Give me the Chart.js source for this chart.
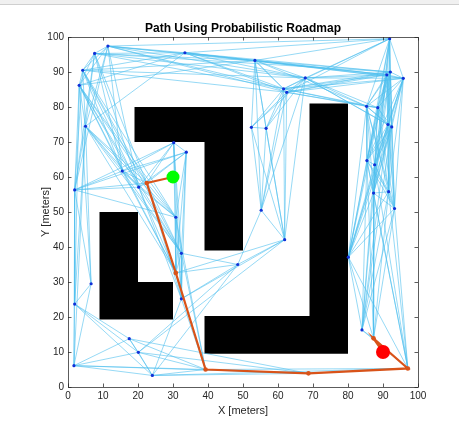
<!DOCTYPE html>
<html>
<head>
<meta charset="utf-8">
<script src="https://cdn.jsdelivr.net/npm/chart.js@4.4.1/dist/chart.umd.min.js"></script>
<style>
html,body{margin:0;padding:0;background:#fff;}
#wrap{width:459px;height:421px;position:relative;}
</style>
</head>
<body>
<div id="wrap"><canvas id="c" width="459" height="421"></canvas></div>
<script>
// ---- data ----
const nodeX = [11.4,7.6,4.2,3.2,5.0,33.4,30.2,33.8,53.4,61.6,62.5,67.8,52.4,56.6,91.9,92.1,91.1,95.8,85.3,88.5,
               91.4,92.5,85.4,87.6,87.3,91.6,93.3,15.5,20.2,1.9,30.8,32.4,55.2,61.9,48.5,80.1,6.6,1.9,17.5,20.1,
               1.7,24.1,32.4,84.0,22.5,30.8,39.3,68.7,97.1,87.3];
const nodeY = [97.4,95.3,90.5,86.2,74.5,95.5,69.8,67.1,93.3,85.2,84.2,88.3,74.2,73.9,99.5,90.0,89.2,88.2,80.2,79.8,
               75.0,74.3,64.7,63.5,55.4,55.8,51.0,61.7,57.1,56.3,48.5,38.2,50.5,42.1,35.0,37.1,29.5,23.7,13.8,9.9,
               6.1,3.3,25.2,16.3,58.3,32.6,5.0,3.9,5.3,13.9];

const edges = [
 [0,1],[0,2],[0,3],[0,4],[1,2],[1,3],[1,4],[2,3],[2,4],[3,4],
 [0,29],[1,29],[2,29],[3,29],[4,29],
 [0,27],[1,27],[2,27],[3,27],[4,27],[0,28],[1,28],[2,28],[3,28],[4,28],[1,44],[2,44],[3,44],[4,44],
 [2,30],[3,30],[4,30],[2,31],[3,31],[4,31],[3,45],[4,45],
 [4,36],[4,37],[3,36],[3,37],[4,40],
 [0,5],[1,5],[2,5],[3,5],[4,5],[0,8],[1,8],[2,8],[3,8],[0,9],[1,9],[0,10],[2,10],[0,11],[1,11],[2,11],[0,14],[0,16],[1,15],
 [29,27],[29,28],[29,44],[29,6],[29,7],[29,30],[29,36],[29,37],[29,40],
 [27,28],[27,44],[27,6],[27,7],[27,30],[27,31],[27,45],
 [28,44],[28,6],[28,7],[28,30],[28,31],[28,45],[28,42],
 [44,6],[44,7],[44,30],[44,31],[44,45],[44,42],
 [6,7],[6,30],[6,31],[6,45],[6,42],
 [7,30],[7,31],[7,45],[7,42],
 [30,31],[30,45],[30,42],[30,46],
 [31,45],[31,42],[31,34],[31,46],
 [45,42],[45,34],[45,33],[45,46],
 [42,34],[42,33],[42,41],[42,46],
 [34,33],[34,32],[34,41],[34,39],
 [33,32],[33,39],[33,12],[33,13],[33,9],[33,10],[33,11],[33,8],
 [32,12],[32,13],[32,8],[32,9],[32,10],[32,11],
 [12,13],[12,8],[12,9],[12,10],[12,11],
 [13,8],[13,9],[13,10],[13,11],
 [5,8],[5,9],[5,10],[5,11],[5,14],[5,15],[5,16],[5,17],
 [8,9],[8,10],[8,11],[8,14],[8,15],[8,16],[8,17],[8,18],
 [9,10],[9,11],[9,14],[9,15],[9,16],[9,17],[9,18],[9,19],
 [10,11],[10,14],[10,15],[10,16],[10,17],[10,18],[10,19],
 [11,14],[11,15],[11,16],[11,17],[11,18],[11,19],[11,20],[11,21],
 [14,15],[14,16],[14,17],[14,18],[14,19],[14,20],[14,21],[14,22],[14,23],[14,24],[14,25],
 [15,16],[15,17],[15,18],[15,19],[15,20],[15,21],[15,22],[15,23],[15,24],[15,25],[15,26],
 [16,17],[16,18],[16,19],[16,20],[16,21],[16,22],[16,23],[16,24],[16,25],[16,26],[16,35],
 [17,18],[17,19],[17,20],[17,21],[17,22],[17,23],[17,24],[17,25],[17,26],[17,35],
 [18,19],[18,20],[18,21],[18,22],[18,23],[18,24],[18,25],[18,26],[18,35],
 [19,20],[19,21],[19,22],[19,23],[19,24],[19,25],[19,26],[19,35],
 [20,21],[20,22],[20,23],[20,24],[20,25],[20,26],[20,35],[20,43],
 [21,22],[21,23],[21,24],[21,25],[21,26],[21,35],[21,43],
 [22,23],[22,24],[22,25],[22,26],[22,35],[22,43],[22,49],[22,48],
 [23,24],[23,25],[23,26],[23,35],[23,43],[23,49],[23,48],
 [24,25],[24,26],[24,35],[24,43],[24,49],[24,48],
 [25,26],[25,35],[25,43],[25,49],[25,48],
 [26,35],[26,43],[26,49],[26,48],
 [35,43],[35,49],[35,48],
 [43,49],[43,48],[49,48],
 [46,47],[47,48],[46,48],[41,46],[41,47],[39,46],[39,47],[38,46],[38,47],[40,46],[40,47],[41,48],
 [36,37],[36,40],[37,40],[37,38],[37,39],[37,41],[40,38],[40,39],[40,41],[38,39],[38,41],[39,41]
];

const pathNodes = [44,45,46,47,48,49];
const startPoint = [30, 60];
const goalPoint = [90, 10];

const obstacleXs = [[19,19,50,50,39,39,19],[9,9,20,20,30,30,9],[39,39,69,69,80,80,39]];
const obstacleYs = [[70,80,80,39,39,70,70],[19.3,50,50,30,30,19.3,19.3],[9.5,20.3,20.3,81,81,9.5,9.5]];

const xTicks = [0,10,20,30,40,50,60,70,80,90,100];
const yTicks = [0,10,20,30,40,50,60,70,80,90,100];

const titleText = 'Path Using Probabilistic Roadmap';
const xLabel = 'X [meters]';
const yLabel = 'Y [meters]';

// ---- build datasets ----
const FONT = "'Liberation Sans', Arial, Helvetica, sans-serif";
const edgeData = [];
edges.forEach(([a,b]) => {
  edgeData.push({x:nodeX[a], y:nodeY[a]}, {x:nodeX[b], y:nodeY[b]}, {x:null, y:null});
});
const nodeData = nodeX.map((x,i) => ({x, y:nodeY[i]}));
const pathData = [{x:startPoint[0], y:startPoint[1]}]
  .concat(pathNodes.map(i => ({x:nodeX[i], y:nodeY[i]})))
  .concat([{x:goalPoint[0], y:goalPoint[1]}]);

const datasets = [];
obstacleXs.forEach((xs, k) => {
  datasets.push({
    data: xs.map((x,i) => ({x, y:obstacleYs[k][i]})),
    showLine: true, fill: 'shape', backgroundColor: '#000', borderColor: '#000',
    borderWidth: 0, pointRadius: 0, order: 5
  });
});
datasets.push({
  data: edgeData, showLine: true, spanGaps: false, borderColor: 'rgba(77,190,238,0.85)',
  borderWidth: 0.7, pointRadius: 0, fill: false, order: 4
});
datasets.push({
  data: nodeData, showLine: false, pointRadius: 1.6, pointBackgroundColor: '#1030d8',
  pointBorderWidth: 0, order: 3
});
datasets.push({
  data: pathData, showLine: true, borderColor: '#D95319', borderWidth: 2.2,
  pointRadius: ctx => (ctx.dataIndex === 0 || ctx.dataIndex === pathData.length - 1) ? 0 : 2.3,
  pointBackgroundColor: '#D95319', pointBorderWidth: 0, fill: false, order: 2
});
datasets.push({
  data: [{x:startPoint[0], y:startPoint[1]}], pointRadius: 6.5, pointBackgroundColor: '#00ff00',
  pointBorderWidth: 0, order: 1
});
datasets.push({
  data: [{x:goalPoint[0], y:goalPoint[1]}], pointRadius: 7, pointBackgroundColor: '#ff0000',
  pointBorderWidth: 0, order: 0
});

const frame = {
  id: 'frame',
  beforeDraw(chart) {
    const c = chart.ctx;
    c.save();
    c.fillStyle = '#fff';
    c.fillRect(0, 0, chart.width, chart.height);
    c.fillStyle = '#f0f0f0';
    c.fillRect(0, 0, chart.width, 4);
    c.fillStyle = '#cfcfcf';
    c.fillRect(0, 4, chart.width, 1);
    c.restore();
  },
  afterDatasetsDraw(chart) {
    const c = chart.ctx, xs = chart.scales.x, ys = chart.scales.y;
    const l = xs.getPixelForValue(0), r = xs.getPixelForValue(100);
    const t = ys.getPixelForValue(100), b = ys.getPixelForValue(0);
    const tl = 3.5;
    c.save();
    c.strokeStyle = 'rgba(38,38,38,0.75)';
    c.lineWidth = 1;
    c.beginPath();
    c.rect(Math.round(l)+0.5, Math.round(t)+0.5, Math.round(r)-Math.round(l), Math.round(b)-Math.round(t));
    xTicks.forEach(v => {
      const p = Math.round(xs.getPixelForValue(v)) + 0.5;
      c.moveTo(p, b); c.lineTo(p, b - tl);
      c.moveTo(p, t); c.lineTo(p, t + tl);
    });
    yTicks.forEach(v => {
      const p = Math.round(ys.getPixelForValue(v)) + 0.5;
      c.moveTo(l, p); c.lineTo(l + tl, p);
      c.moveTo(r, p); c.lineTo(r - tl, p);
    });
    c.stroke();
    c.restore();
  }
};

new Chart(document.getElementById('c'), {
  type: 'scatter',
  data: { datasets },
  options: {
    responsive: false, animation: false, devicePixelRatio: 1,
    layout: { padding: { left: 0, right: 41, top: 0, bottom: 0 } },
    events: [],
    plugins: {
      legend: { display: false },
      tooltip: { enabled: false },
      title: {
        display: true, text: titleText, fullSize: false, color: '#000',
        font: { family: FONT, size: 12, weight: 'bold', lineHeight: 1.2 },
        padding: { top: 21.6, bottom: 1 }
      }
    },
    elements: { line: { tension: 0 } },
    scales: {
      x: {
        type: 'linear', min: 0, max: 100,
        grid: { display: false, drawTicks: false, tickLength: 0 }, border: { display: false },
        afterBuildTicks: s => { s.ticks = xTicks.map(v => ({ value: v })); },
        afterFit: s => { s.height = 34; },
        ticks: { padding: 3.5, color: '#262626', font: { family: FONT, size: 10 }, maxRotation: 0, autoSkip: false },
        title: { display: true, text: xLabel, color: '#262626', font: { family: FONT, size: 11 }, padding: { top: 0, bottom: 3 } }
      },
      y: {
        type: 'linear', min: 0, max: 100,
        grid: { display: false, drawTicks: false, tickLength: 0 }, border: { display: false },
        afterBuildTicks: s => { s.ticks = yTicks.map(v => ({ value: v })); },
        afterFit: s => { s.width = 68; },
        ticks: { padding: 4, color: '#262626', font: { family: FONT, size: 10 }, autoSkip: false },
        title: { display: true, text: yLabel, color: '#262626', font: { family: FONT, size: 11 }, padding: { top: 39, bottom: 0 } }
      }
    }
  },
  plugins: [frame]
});
</script>
</body>
</html>
